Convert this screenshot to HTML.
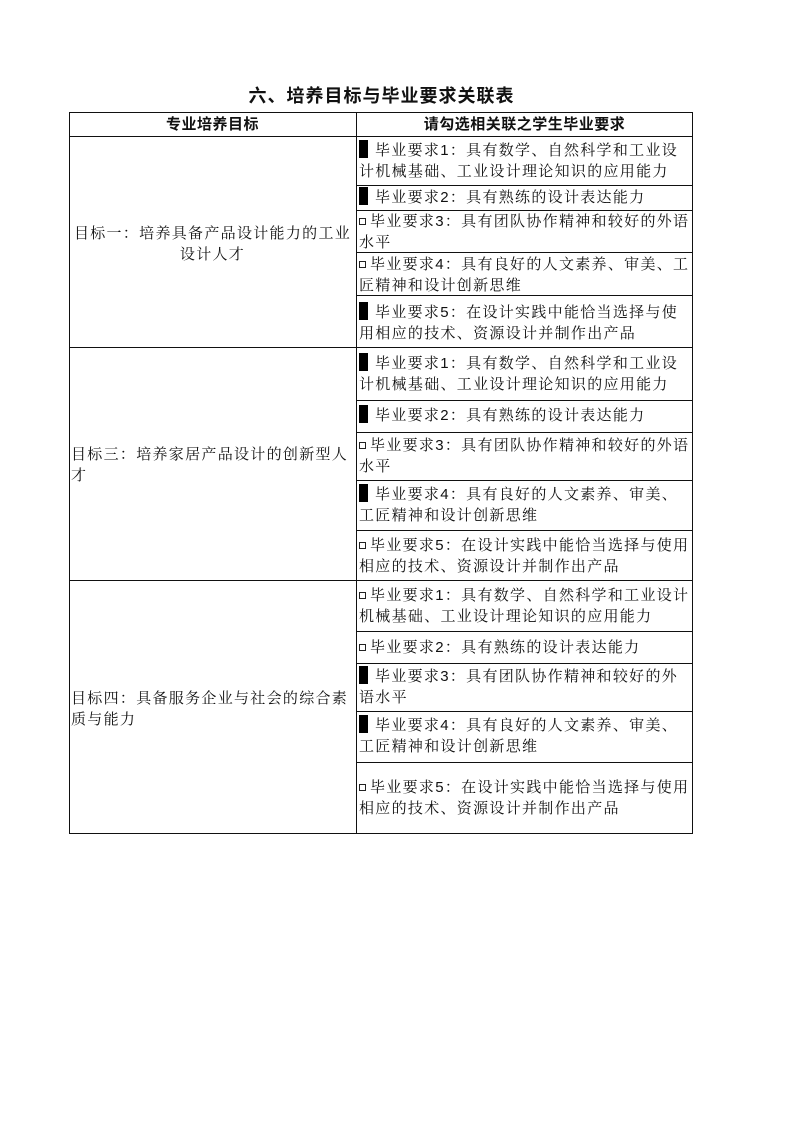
<!DOCTYPE html>
<html><head><meta charset="utf-8">
<style>
body{margin:0;background:#fff;width:799px;height:1131px;position:relative;font-family:"Liberation Sans","Noto Serif CJK SC",serif;color:#111}
.title{position:absolute;left:0;width:763px;top:82px;text-align:center;font-size:18px;font-weight:bold;letter-spacing:1px;font-family:"Liberation Sans","Noto Sans CJK SC",sans-serif}
.b{position:absolute;border:1px solid #111;box-sizing:border-box}
.t{position:absolute;font-size:15px;line-height:21px;letter-spacing:1.3px}
.k{display:inline-block;width:9px;height:18px;background:#000;vertical-align:-3px;margin-right:7px}
.c{display:inline-block;width:5px;height:5px;border:1px solid #222;margin-right:4px;vertical-align:1px}
.h{font-weight:bold;text-align:center;font-family:"Liberation Sans","Noto Sans CJK SC",sans-serif;letter-spacing:0.5px}
</style></head><body>
<div class="title">六、培养目标与毕业要求关联表</div>
<div class="b" style="left:69px;top:112px;width:624px;height:722px;border-width:1.5px"></div>
<div class="b" style="left:356px;top:112px;width:1px;height:722px;border-width:0 0 0 1px"></div>
<div class="b" style="left:69px;top:136px;width:624px;height:0;border-width:1px 0 0 0"></div>
<div class="b" style="left:69px;top:347px;width:624px;height:0;border-width:1px 0 0 0"></div>
<div class="b" style="left:69px;top:580px;width:624px;height:0;border-width:1px 0 0 0"></div>
<div class="b" style="left:356px;top:185px;width:337px;height:0;border-width:1px 0 0 0"></div>
<div class="b" style="left:356px;top:210px;width:337px;height:0;border-width:1px 0 0 0"></div>
<div class="b" style="left:356px;top:252px;width:337px;height:0;border-width:1px 0 0 0"></div>
<div class="b" style="left:356px;top:295px;width:337px;height:0;border-width:1px 0 0 0"></div>
<div class="b" style="left:356px;top:400px;width:337px;height:0;border-width:1px 0 0 0"></div>
<div class="b" style="left:356px;top:432px;width:337px;height:0;border-width:1px 0 0 0"></div>
<div class="b" style="left:356px;top:480px;width:337px;height:0;border-width:1px 0 0 0"></div>
<div class="b" style="left:356px;top:530px;width:337px;height:0;border-width:1px 0 0 0"></div>
<div class="b" style="left:356px;top:631px;width:337px;height:0;border-width:1px 0 0 0"></div>
<div class="b" style="left:356px;top:663px;width:337px;height:0;border-width:1px 0 0 0"></div>
<div class="b" style="left:356px;top:711px;width:337px;height:0;border-width:1px 0 0 0"></div>
<div class="b" style="left:356px;top:762px;width:337px;height:0;border-width:1px 0 0 0"></div>

<div class="t h" style="left:69px;width:287px;top:114px">专业培养目标</div>
<div class="t h" style="left:356px;width:337px;top:114px">请勾选相关联之学生毕业要求</div>

<div class="t" style="left:71px;width:283px;top:223px;text-align:center">目标一：培养具备产品设计能力的工业设计人才</div>
<div class="t" style="left:71px;width:283px;top:444px">目标三：培养家居产品设计的创新型人才</div>
<div class="t" style="left:71px;width:283px;top:688px">目标四：具备服务企业与社会的综合素质与能力</div>

<div class="t" style="left:359px;width:333px;top:140px"><span class="k"></span>毕业要求1：具有数学、自然科学和工业设计机械基础、工业设计理论知识的应用能力</div>
<div class="t" style="left:359px;width:333px;top:187px"><span class="k"></span>毕业要求2：具有熟练的设计表达能力</div>
<div class="t" style="left:359px;width:333px;top:211px"><span class="c"></span>毕业要求3：具有团队协作精神和较好的外语水平</div>
<div class="t" style="left:359px;width:333px;top:254px"><span class="c"></span>毕业要求4：具有良好的人文素养、审美、工匠精神和设计创新思维</div>
<div class="t" style="left:359px;width:333px;top:302px"><span class="k"></span>毕业要求5：在设计实践中能恰当选择与使用相应的技术、资源设计并制作出产品</div>

<div class="t" style="left:359px;width:333px;top:353px"><span class="k"></span>毕业要求1：具有数学、自然科学和工业设计机械基础、工业设计理论知识的应用能力</div>
<div class="t" style="left:359px;width:333px;top:405px"><span class="k"></span>毕业要求2：具有熟练的设计表达能力</div>
<div class="t" style="left:359px;width:333px;top:435px"><span class="c"></span>毕业要求3：具有团队协作精神和较好的外语水平</div>
<div class="t" style="left:359px;width:333px;top:484px"><span class="k"></span>毕业要求4：具有良好的人文素养、审美、工匠精神和设计创新思维</div>
<div class="t" style="left:359px;width:333px;top:535px"><span class="c"></span>毕业要求5：在设计实践中能恰当选择与使用相应的技术、资源设计并制作出产品</div>

<div class="t" style="left:359px;width:333px;top:585px"><span class="c"></span>毕业要求1：具有数学、自然科学和工业设计机械基础、工业设计理论知识的应用能力</div>
<div class="t" style="left:359px;width:333px;top:637px"><span class="c"></span>毕业要求2：具有熟练的设计表达能力</div>
<div class="t" style="left:359px;width:333px;top:666px"><span class="k"></span>毕业要求3：具有团队协作精神和较好的外语水平</div>
<div class="t" style="left:359px;width:333px;top:715px"><span class="k"></span>毕业要求4：具有良好的人文素养、审美、工匠精神和设计创新思维</div>
<div class="t" style="left:359px;width:333px;top:777px"><span class="c"></span>毕业要求5：在设计实践中能恰当选择与使用相应的技术、资源设计并制作出产品</div>
</body></html>
